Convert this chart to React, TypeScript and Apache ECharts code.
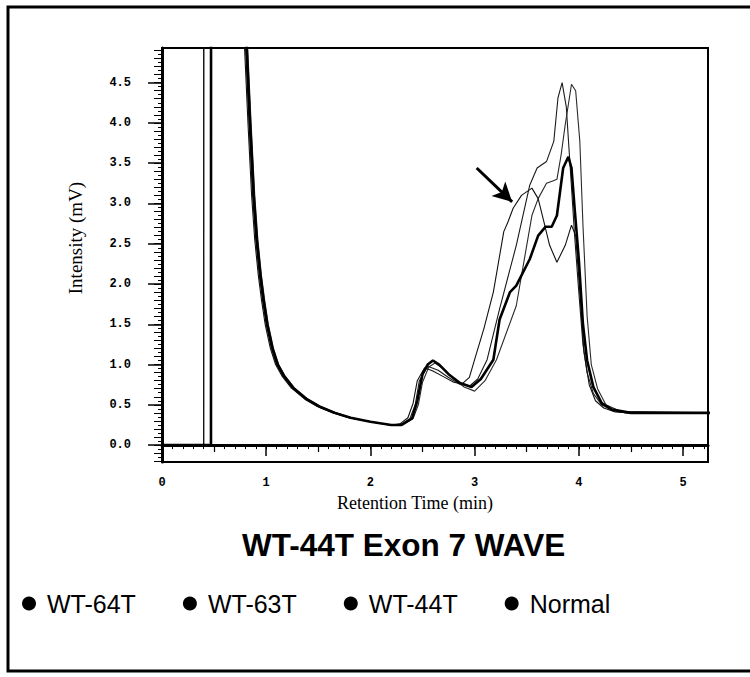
import React, { useEffect, useRef } from "react";
import * as echarts from "echarts";

// ---------- data ----------
const SERIES_NAMES = ["WT-64T", "WT-63T", "WT-44T", "Normal"];
const X_LABEL_TICKS = [0, 1, 2, 3, 4, 5];
const Y_LABEL_TICKS = [0, 0.5, 1, 1.5, 2, 2.5, 3, 3.5, 4, 4.5];
const X_RANGE = [0, 5.24];
const Y_RANGE = [-0.21, 4.93];

// [retention time (min), intensity (mV)] ; 8 = off-scale (clipped at top)
const WT64T: [number, number][] = [
  [0, 0], [0.40, 0], [0.401, 8], [0.78, 8], [0.80, 5.0], [0.835, 4.0], [0.87, 3.1], [0.90, 2.55],
  [0.935, 2.1], [0.965, 1.8], [1.0, 1.5], [1.05, 1.2], [1.1, 1.0], [1.16, 0.86], [1.25, 0.71],
  [1.38, 0.57], [1.5, 0.48], [1.65, 0.40], [1.8, 0.34], [2.0, 0.29], [2.2, 0.25], [2.3, 0.26],
  [2.38, 0.33], [2.43, 0.50], [2.47, 0.80], [2.55, 0.98], [2.65, 0.93], [2.75, 0.84], [2.85, 0.76],
  [2.95, 0.73], [3.03, 0.82], [3.12, 1.06], [3.24, 1.69], [3.40, 2.48], [3.53, 3.23], [3.60, 3.44],
  [3.69, 3.52], [3.76, 3.77], [3.80, 4.31], [3.84, 4.50], [3.88, 4.20], [3.92, 3.40], [3.96, 2.60],
  [4.00, 1.90], [4.04, 1.25], [4.08, 0.90], [4.14, 0.64], [4.22, 0.50], [4.32, 0.43], [4.45, 0.40],
  [5.3, 0.40],
];
const WT63T: [number, number][] = [
  [0, 0], [0.47, 0], [0.471, 8], [0.80, 8], [0.82, 5.0], [0.855, 4.0], [0.89, 3.1], [0.92, 2.55],
  [0.955, 2.1], [0.985, 1.8], [1.02, 1.5], [1.07, 1.2], [1.12, 1.0], [1.18, 0.86], [1.27, 0.71],
  [1.40, 0.57], [1.52, 0.48], [1.67, 0.40], [1.82, 0.34], [2.0, 0.29], [2.2, 0.25], [2.32, 0.26],
  [2.41, 0.33], [2.46, 0.50], [2.50, 0.78], [2.56, 0.97], [2.62, 1.02], [2.70, 0.95], [2.80, 0.82],
  [2.90, 0.72], [3.0, 0.67], [3.1, 0.80], [3.21, 1.06], [3.40, 1.73], [3.55, 2.85], [3.61, 3.06],
  [3.69, 3.25], [3.75, 3.28], [3.79, 3.30], [3.83, 3.60], [3.87, 3.98], [3.93, 4.48], [3.97, 4.40],
  [4.01, 3.77], [4.04, 2.73], [4.08, 1.60], [4.12, 1.00], [4.18, 0.70], [4.26, 0.50], [4.4, 0.42],
  [5.3, 0.40],
];
const WT44T: [number, number][] = [
  [0, 0], [0.40, 0], [0.401, 8], [0.77, 8], [0.79, 5.0], [0.825, 4.0], [0.86, 3.1], [0.89, 2.55],
  [0.925, 2.1], [0.955, 1.8], [0.99, 1.5], [1.04, 1.2], [1.09, 1.0], [1.15, 0.86], [1.24, 0.71],
  [1.37, 0.57], [1.49, 0.48], [1.64, 0.40], [1.79, 0.34], [2.0, 0.29], [2.18, 0.25], [2.28, 0.26],
  [2.36, 0.34], [2.41, 0.52], [2.45, 0.80], [2.52, 0.96], [2.60, 0.92], [2.70, 0.85], [2.80, 0.78],
  [2.88, 0.76], [2.95, 0.84], [3.00, 1.06], [3.09, 1.45], [3.18, 1.90], [3.28, 2.65], [3.32, 2.77],
  [3.37, 2.94], [3.45, 3.10], [3.55, 3.19], [3.61, 3.06], [3.66, 2.80], [3.72, 2.48], [3.79, 2.27],
  [3.87, 2.48], [3.93, 2.73], [3.97, 2.60], [4.01, 1.90], [4.05, 1.15], [4.10, 0.75], [4.16, 0.55],
  [4.24, 0.46], [4.35, 0.41], [4.5, 0.40], [5.3, 0.40],
];
const NORMAL: [number, number][] = [
  [0, 0], [0.47, 0], [0.471, 8], [0.79, 8], [0.81, 5.0], [0.845, 4.0], [0.88, 3.1], [0.91, 2.55],
  [0.945, 2.1], [0.975, 1.8], [1.01, 1.5], [1.06, 1.2], [1.11, 1.0], [1.17, 0.86], [1.26, 0.71],
  [1.39, 0.57], [1.51, 0.48], [1.66, 0.40], [1.81, 0.34], [2.0, 0.29], [2.2, 0.25], [2.3, 0.25],
  [2.40, 0.33], [2.45, 0.55], [2.50, 0.88], [2.55, 1.00], [2.60, 1.05], [2.66, 1.00], [2.75, 0.88],
  [2.86, 0.77], [2.97, 0.72], [3.06, 0.82], [3.18, 1.06], [3.24, 1.56], [3.34, 1.90], [3.40, 1.98],
  [3.53, 2.31], [3.61, 2.60], [3.68, 2.71], [3.74, 2.71], [3.79, 2.85], [3.85, 3.44], [3.90, 3.58],
  [3.93, 3.44], [3.96, 2.94], [4.00, 2.31], [4.04, 1.50], [4.08, 1.05], [4.14, 0.72], [4.22, 0.52],
  [4.32, 0.44], [4.5, 0.40], [5.3, 0.40],
];
const ARROW_FROM = [3.02, 3.44];
const ARROW_TO = [3.36, 3.02];

// ---------- tick helpers ----------
const steps = (from: number, to: number, step: number) => {
  const out: number[] = [];
  const n = Math.round((to - from) / step);
  for (let i = 0; i <= n; i++) out.push(+(from + i * step).toFixed(3));
  return out;
};

export default function App() {
  const ref = useRef<HTMLDivElement>(null);
  useEffect(() => {
    if (!ref.current) return;
    const chart = echarts.init(ref.current, null, { renderer: "svg" });
    const mono = "Liberation Mono";
    const hiddenAxisBase = {
      axisLine: { show: false },
      axisLabel: { show: false },
      splitLine: { show: false },
    };
    const mkLine = (name: string, data: [number, number][], color: string, width: number, extra: any = {}) => ({
      name,
      type: "line",
      data,
      symbol: "none",
      showSymbol: false,
      clip: true,
      color: "#000",
      lineStyle: { color, width },
      xAxisIndex: 0,
      yAxisIndex: 0,
      z: 3,
      ...extra,
    });
    chart.setOption({
      animation: false,
      backgroundColor: "#fff",
      title: {
        text: "WT-44T Exon 7 WAVE",
        left: 237,
        top: 524,
        textStyle: { fontFamily: "Liberation Sans", fontWeight: "bold", fontSize: 31.5, color: "#000" },
      },
      legend: {
        data: SERIES_NAMES,
        left: 17,
        top: 586,
        icon: "circle",
        itemWidth: 14,
        itemHeight: 14,
        itemGap: 47,
        textStyle: { fontFamily: "Liberation Sans", fontSize: 25, color: "#000", padding: [0, 0, 0, 6] },
      },
      grid: {
        left: 162,
        right: 42,
        top: 48,
        bottom: 215,
        show: true,
        borderColor: "#000",
        borderWidth: 2,
        backgroundColor: "transparent",
      },
      xAxis: [
        {
          type: "value",
          min: X_RANGE[0],
          max: X_RANGE[1],
          interval: 1,
          position: "bottom",
          axisLine: { show: true, lineStyle: { color: "#000", width: 3 } },
          axisTick: { show: true, length: 11, lineStyle: { color: "#000", width: 1.5 }, customValues: X_LABEL_TICKS },
          axisLabel: {
            customValues: X_LABEL_TICKS,
            margin: 15,
            fontFamily: mono,
            fontWeight: "bold",
            fontSize: 12,
            color: "#000",
          },
          splitLine: { show: false },
          name: "Retention Time (min)",
          nameLocation: "middle",
          nameGap: 20,
          nameTextStyle: { fontFamily: "Liberation Serif", fontSize: 18, color: "#000", padding: [0, 40, 0, 0] },
        },
        {
          type: "value",
          min: X_RANGE[0],
          max: X_RANGE[1],
          position: "bottom",
          offset: 0,
          ...hiddenAxisBase,
          axisTick: { show: true, length: 4, lineStyle: { color: "#000", width: 1 }, customValues: steps(0, 5.2, 0.1) },
        },
        {
          type: "value",
          min: X_RANGE[0],
          max: X_RANGE[1],
          position: "bottom",
          offset: 0,
          ...hiddenAxisBase,
          axisTick: { show: true, length: 7, lineStyle: { color: "#000", width: 1.2 }, customValues: steps(0.5, 4.5, 1) },
        },
      ],
      yAxis: [
        {
          type: "value",
          min: Y_RANGE[0],
          max: Y_RANGE[1],
          position: "left",
          axisLine: { show: true, lineStyle: { color: "#000", width: 3 } },
          axisTick: { show: true, length: 14, lineStyle: { color: "#000", width: 1.5 }, customValues: Y_LABEL_TICKS },
          axisLabel: {
            customValues: Y_LABEL_TICKS,
            formatter: (v: number) => v.toFixed(1),
            margin: 31,
            fontFamily: mono,
            fontWeight: "bold",
            fontSize: 12,
            color: "#000",
          },
          splitLine: { show: false },
          name: "Intensity (mV)",
          nameLocation: "middle",
          nameRotate: 90,
          nameGap: 77,
          nameTextStyle: { fontFamily: "Liberation Serif", fontSize: 19, color: "#000", padding: [0, 0, 0, 34] },
        },
        {
          type: "value",
          min: Y_RANGE[0],
          max: Y_RANGE[1],
          position: "left",
          offset: 0,
          ...hiddenAxisBase,
          axisTick: { show: true, length: 8, lineStyle: { color: "#000", width: 1 }, customValues: steps(-0.2, 4.9, 0.1) },
        },
        {
          type: "value",
          min: Y_RANGE[0],
          max: Y_RANGE[1],
          position: "left",
          offset: 0,
          ...hiddenAxisBase,
          axisTick: { show: true, length: 4, lineStyle: { color: "#000", width: 1 }, customValues: steps(-0.2, 4.9, 0.05) },
        },
      ],
      graphic: [
        {
          type: "polyline",
          shape: { points: [[760, 7], [8, 7], [8, 671], [760, 671]] },
          style: { stroke: "#000", lineWidth: 3, fill: null },
          silent: true,
        },
      ],
      series: [
        mkLine(SERIES_NAMES[0], WT64T, "#1a1a1a", 1.1),
        mkLine(SERIES_NAMES[1], WT63T, "#2a2a2a", 1.1),
        mkLine(SERIES_NAMES[2], WT44T, "#111", 1.1, {
          markLine: {
            silent: true,
            symbol: ["none", "arrow"],
            symbolSize: [15, 19],
            label: { show: false },
            lineStyle: { color: "#000", width: 3, type: "solid" },
            data: [[{ coord: ARROW_FROM }, { coord: ARROW_TO }]],
          },
        }),
        mkLine(SERIES_NAMES[3], NORMAL, "#000", 2.6),
      ],
    });
    return () => chart.dispose();
  }, []);
  return (
    <div
      ref={ref}
      style={{ position: "fixed", left: 0, top: 0, width: 750, height: 677, background: "#fff" }}
    />
  );
}
